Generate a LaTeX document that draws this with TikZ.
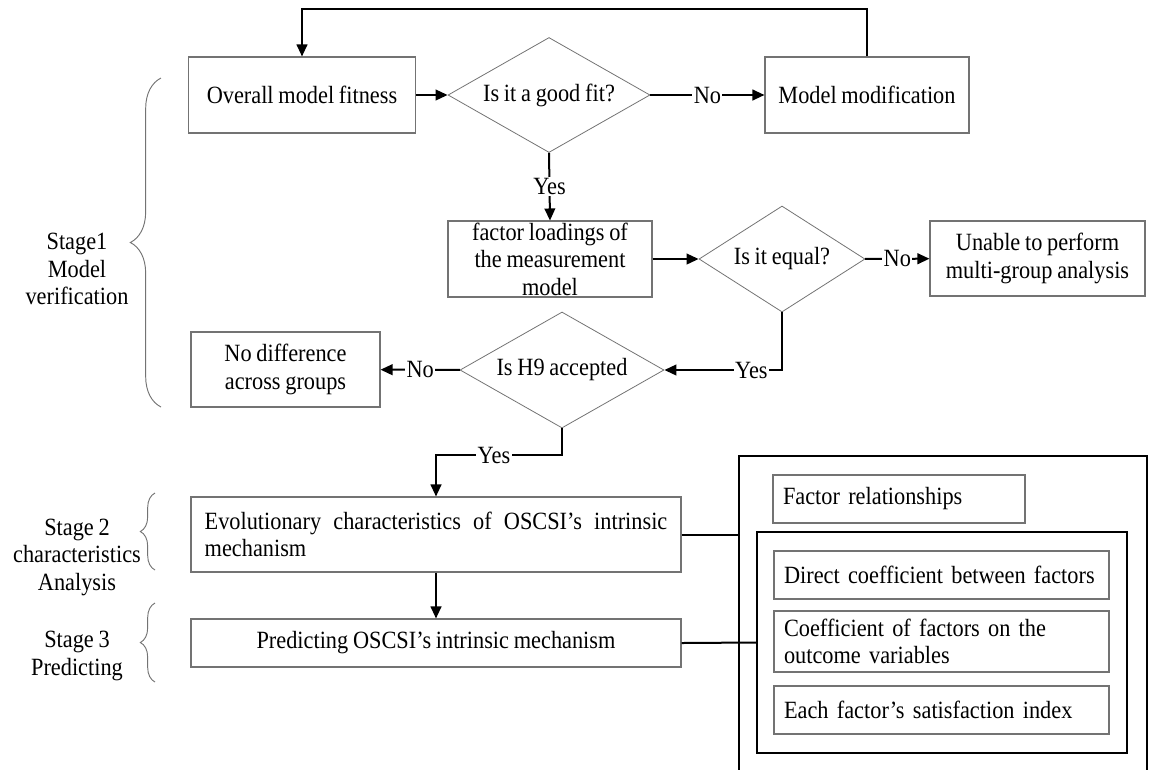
\documentclass[tikz,border=0pt]{standalone}
\usepackage{fontspec}
\setmainfont{Liberation Serif}[FakeStretch=0.9,WordSpace=0.85]
\usetikzlibrary{arrows.meta,shapes.geometric,decorations.pathreplacing}

\begin{document}
\begin{tikzpicture}[x=0.75pt,y=-0.75pt,
	font=\fontsize{18.6pt}{20.6pt}\selectfont,
	box/.style={draw=black!55,line width=0.8pt,rectangle,align=center,inner sep=0pt},
	ask/.style={draw=black!55,line width=0.6pt,diamond,aspect=1.76,inner sep=0pt,align=center},
	leftbox/.style={draw=black!55,line width=0.8pt,rectangle,align=left,inner xsep=7.5pt,inner ysep=0pt},
	frame/.style={draw=black,line width=1.4pt},
	link/.style={line width=1.5pt,-{Triangle[length=9pt,width=8pt]}},
	wire/.style={line width=1.5pt},
	lab/.style={fill=white,inner sep=1pt},
	curly/.style={draw=black!55,line width=0.7pt,decorate,decoration={brace,amplitude=#1}}]
	
	\useasboundingbox (0,0) rectangle (1155,769);
	
	%stage 1 : model verification
	\node[box,minimum width=170.25pt,minimum height=57pt] (fit) at (302,95) {Overall model fitness};
	\node[ask,minimum width=151.5pt,minimum height=86.25pt] (good) at (549,95) {Is it a good fit?};
	\node[box,minimum width=153pt,minimum height=57pt] (modif) at (867,95) {Model modification};
	\node[box,minimum width=153pt,minimum height=57pt] (load) at (550,259) {factor loadings of\\the measurement\\model};
	\node[ask,minimum width=124.5pt,minimum height=79.5pt] (equal) at (782,259) {Is it equal?};
	\node[box,minimum width=161.25pt,minimum height=56.25pt] (unable) at (1037.5,258.5) {Unable to perform\\multi-group analysis};
	\node[ask,minimum width=153pt,minimum height=87pt] (hnine) at (562,370) {Is H9 accepted};
	\node[box,minimum width=141.75pt,minimum height=56.25pt] (nodiff) at (285.5,369.5) {No difference\\across groups};
	
	%stage 2 and 3
	\node[box,minimum width=367.5pt,minimum height=56.25pt,text width=347pt,align=justify] (evol) at (436,534.5) {Evolutionary characteristics of OSCSI’s intrinsic mechanism};
	\node[box,minimum width=367.5pt,minimum height=36pt] (pred) at (436,643) {Predicting OSCSI’s intrinsic mechanism};
	
	%right frame
	\draw[frame] (739,775) |- (1147,456) -- (1147,775);
	\coordinate (frameW) at (739,534.5);
	\node[leftbox,minimum height=36pt,text width=174pt] (factrel) at (899,499) {Factor relationships};
	\node[frame,rectangle,minimum width=277.5pt,minimum height=165.75pt] (inner) at (942,642.5) {};
	\node[leftbox,minimum height=36pt,text width=236.25pt] (direct) at (941.5,575) {Direct coefficient between factors};
	\node[leftbox,minimum height=45.75pt,text width=236.25pt] (coef) at (941.5,641.5) {Coefficient of factors on the\\outcome variables};
	\node[leftbox,minimum height=36pt,text width=236.25pt] (each) at (941.5,710) {Each factor’s satisfaction index};
	
	%arrows
	\draw[link] (modif.north) -- ++(0,-47) -| (fit.north);
	\draw[link] (fit) -- (good);
	\draw[link] (good) -- node[lab] {No} (modif);
	\draw[link] (good.south) -- node[lab] {Yes} (load.north);
	\draw[link] (load) -- (equal);
	\draw[link] (equal) -- node[lab] {No} (unable);
	\draw[link] (equal.south) |- node[lab,pos=0.63] {Yes} (hnine.east);
	\draw[link] (hnine) -- node[lab] {No} (nodiff);
	\draw[link] (hnine.south) -- ++(0,27) -| node[lab,pos=0.27] {Yes} (evol.north);
	\draw[link] (evol) -- (pred);
	\draw[wire] (evol.east) -- (frameW);
	\draw[wire] (pred.east) -- (inner.west);
	
	%stages
	\node[align=center] (stone) at (77,269) {Stage1\\Model\\verification};
	\node[align=center] (sttwo) at (77,557) {Stage 2\\characteristics\\Analysis};
	\node[align=center] (stthree) at (77,656) {Stage 3\\Predicting};
	\draw[curly=23pt] (161,407) -- (161,78);
	\draw[curly=11pt] (155,570) -- (155,493);
	\draw[curly=11pt] (155,682) -- (155,603);
\end{tikzpicture}
\end{document}
